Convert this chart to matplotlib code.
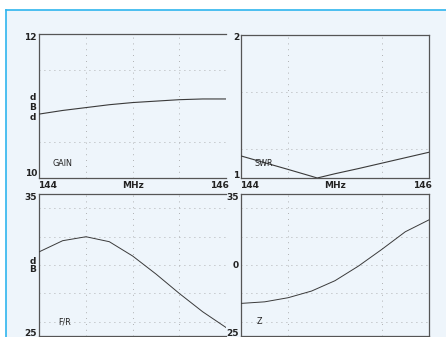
import matplotlib
matplotlib.use("Agg")
import matplotlib.pyplot as plt
from matplotlib.lines import Line2D
from matplotlib.patches import Rectangle

# frequency points (MHz)
freq = [144.0, 144.25, 144.5, 144.75, 145.0, 145.25, 145.5, 145.75, 146.0]

# forward gain, dBd
gain = [10.89, 10.94, 10.98, 11.02, 11.05, 11.07, 11.09, 11.10, 11.10]

# SWR (has its own frequency points, minimum near 144.81)
swr_freq = [144.0, 144.25, 144.5, 144.75, 144.81, 145.0, 145.25, 145.5, 145.75, 146.0]
swr = [1.154, 1.107, 1.060, 1.012, 1.0, 1.03, 1.066, 1.104, 1.142, 1.18]

# front to rear ratio, dB
fr = [30.94, 31.72, 32.0, 31.65, 30.64, 29.37, 28.0, 26.71, 25.6]

# feed impedance
z = [27.30, 27.41, 27.70, 28.17, 28.90, 29.93, 31.11, 32.35, 33.18]

bg = "#eef5fb"
frame_col = "#555555"
curve_col = "#3a3a3a"
grid_col = "#9a9a9a"
text_col = "#222222"

W, H = 446, 337
fig = plt.figure(figsize=(W / 100, H / 100), dpi=100, facecolor="white")

# light blue panel with cyan top/left border
fig.patches.append(Rectangle((6 / W, 0), 1 - 6 / W, 1 - 10 / H, transform=fig.transFigure,
                             facecolor=bg, edgecolor="none", zorder=-5))
fig.lines.append(Line2D([6 / W, 1], [1 - 10 / H, 1 - 10 / H], transform=fig.transFigure,
                        color="#2fb5ee", lw=1.2, zorder=-4))
fig.lines.append(Line2D([6 / W, 6 / W], [0, 1 - 10 / H], transform=fig.transFigure,
                        color="#2fb5ee", lw=1.2, zorder=-4))


def px_axes(x0, y0, x1, y1):
    return fig.add_axes([x0 / W, 1 - y1 / H, (x1 - x0) / W, (y1 - y0) / H])


def setup(ax, ylim, hgrid, vgrid, right_spine):
    ax.set_facecolor(bg)
    ax.set_xlim(144, 146)
    ax.set_ylim(*ylim)
    ax.set_xticks([])
    ax.set_yticks([])
    for s in ax.spines.values():
        s.set_color(frame_col)
        s.set_linewidth(0.9)
    ax.spines["right"].set_visible(right_spine)
    for v in hgrid:
        ax.axhline(v, color=grid_col, lw=0.6, ls=(0, (1, 5)), zorder=1)
    for v in vgrid:
        ax.axvline(v, color=grid_col, lw=0.6, ls=(0, (1, 6)), zorder=1)


num_font = dict(fontsize=6.5, fontweight="bold", color=text_col)
lab_font = dict(fontsize=5.8, color=text_col)


def fig_text(x, y, s, ha="center", font=num_font):
    fig.text(x / W, 1 - y / H, s, ha=ha, va="center", **font)


# top left: gain
ax1 = px_axes(39.3, 34.3, 226, 178)
setup(ax1, (10, 12), [10.5, 11.5], [144.5, 145.0, 145.5], False)
ax1.plot(freq, gain, color=curve_col, lw=0.8, zorder=3)
ax1.text(0.07, 0.1, "GAIN", transform=ax1.transAxes, ha="left", va="center", **lab_font)

# top right: SWR
ax2 = px_axes(241.3, 35.3, 428.7, 178)
setup(ax2, (1, 2), [1.2, 1.6], [144.5, 145.5], True)
ax2.plot(swr_freq, swr, color=curve_col, lw=0.8, zorder=3)
ax2.text(0.07, 0.1, "SWR", transform=ax2.transAxes, ha="left", va="center", **lab_font)

# bottom left: F/R
ax3 = px_axes(39.3, 194.2, 226, 336)
setup(ax3, (25, 35), [26, 28, 30, 32, 34], [144.5, 145.0, 145.5], False)
ax3.plot(freq, fr, color=curve_col, lw=0.7, zorder=3)
ax3.text(0.1, 0.1, "F/R", transform=ax3.transAxes, ha="left", va="center", **lab_font)

# bottom right: Z
ax4 = px_axes(241.3, 194.2, 428.7, 336)
setup(ax4, (25, 35), [26, 28, 30, 32, 34], [144.5, 145.5], True)
ax4.plot(freq, z, color=curve_col, lw=0.7, zorder=3)
ax4.text(0.08, 0.1, "Z", transform=ax4.transAxes, ha="left", va="center", **lab_font)

# y labels
fig_text(37, 37, "12", ha="right")
fig_text(37, 174, "10", ha="right")
for yy, ch in zip([97, 107, 117], ["d", "B", "d"]):
    fig_text(33, yy, ch)
fig_text(239, 38, "2", ha="right")
fig_text(239, 175, "1", ha="right")
fig_text(37, 198, "35", ha="right")
fig_text(37, 333, "25", ha="right")
for yy, ch in zip([262, 270], ["d", "B"]):
    fig_text(33, yy, ch)
fig_text(239, 198, "35", ha="right")
fig_text(239, 265, "0", ha="right")
fig_text(239, 333, "25", ha="right")

# frequency labels between the rows
for x0, x1 in [(39.3, 226), (241.3, 428.7)]:
    fig_text(x0 - 1, 186, "144", ha="left")
    fig_text((x0 + x1) / 2, 186, "MHz")
    fig_text(x1 + 3, 186, "146", ha="right")

fig.savefig("out.png", dpi=100, facecolor="white")
